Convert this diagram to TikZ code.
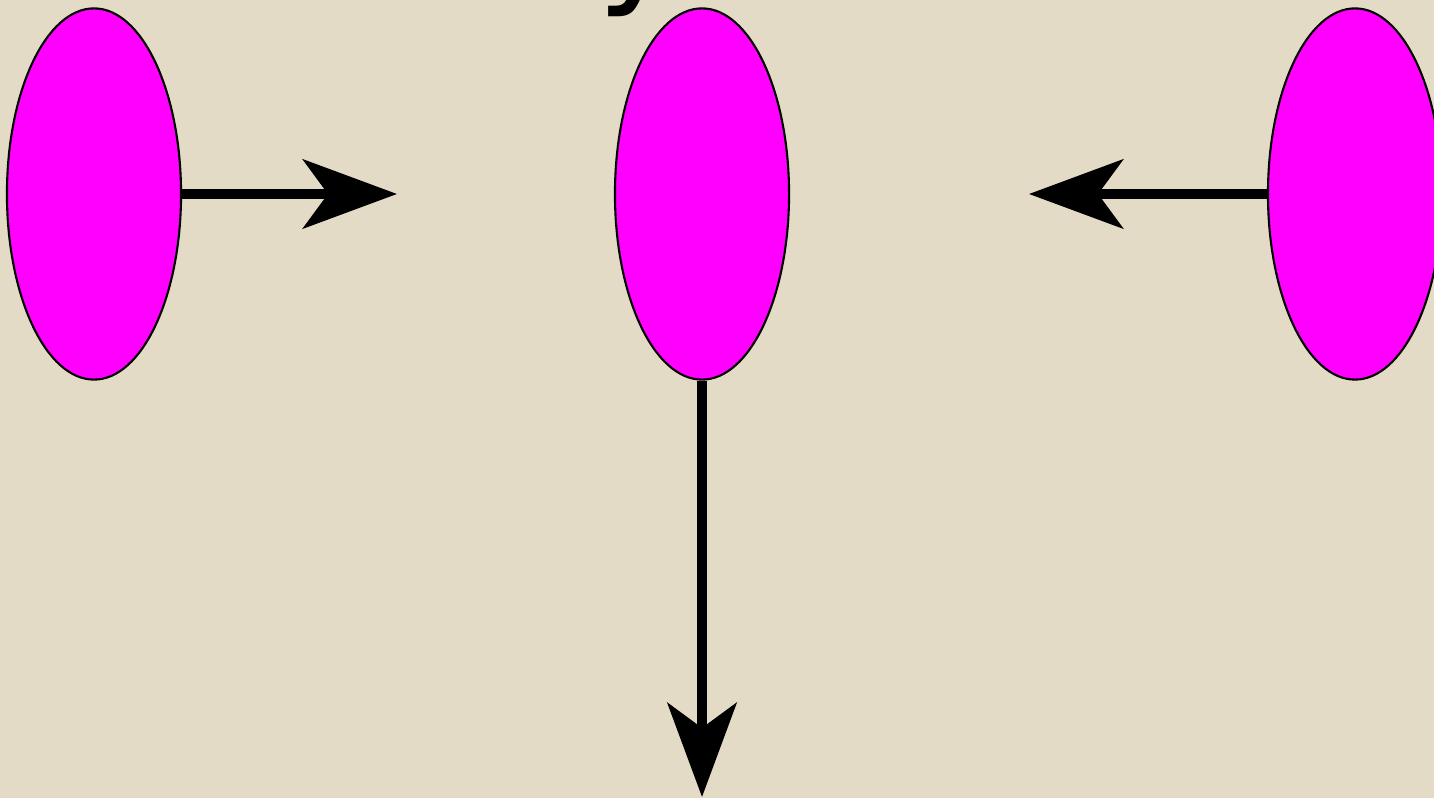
\documentclass[tikz,border=0pt]{standalone}
\usepackage{fontspec}
\usetikzlibrary{arrows.meta,positioning,shapes.geometric}
\definecolor{parchment}{RGB}{228,219,199}
\definecolor{blobmagenta}{RGB}{255,0,255}
\newfontfamily\titlefont{DejaVu Sans}

\begin{document}
\begin{tikzpicture}[
    x=0.01cm, y=-0.01cm,
    blob/.style={ellipse, draw=black, line width=0.6pt, fill=blobmagenta,
        minimum width=1.74cm, minimum height=3.71cm, inner sep=0pt},
    flow/.style={line width=0.1cm,
        -{Stealth[length=0.94cm, width=0.69cm, inset=0.25cm]}}
]
\fill[parchment] (0,0) rectangle (1434,798);
\useasboundingbox (0,0) rectangle (1434,798);
\node[font=\titlefont\fontsize{40}{44}\selectfont, inner sep=0pt, anchor=base west] (title) at (597,-12) {y};
\node[blob] (left) at (94,194) {};
\node[blob] (middle) at (702,194) {};
\node[blob] (right) at (1355,194) {};
\coordinate (lefttip) at (397,194);
\coordinate (righttip) at (1029,194);
\coordinate (downtip) at (702,797);
\draw[flow] (left) -- (lefttip);
\draw[flow] (right) -- (righttip);
\draw[flow] (middle) -- (downtip);
\end{tikzpicture}
\end{document}
